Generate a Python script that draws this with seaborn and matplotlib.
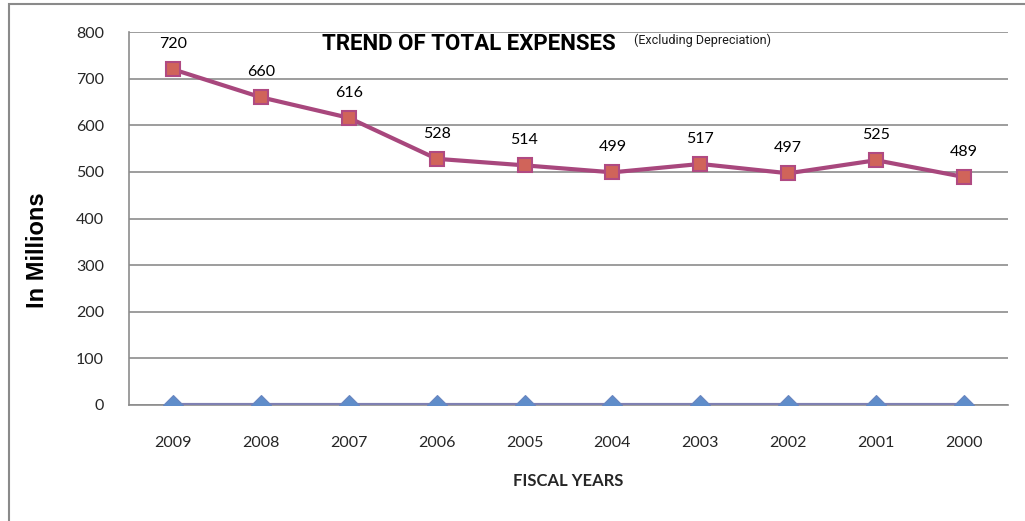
"""
Trend of total expenses (excluding depreciation), fiscal years 2009 back to 2000.
"""

import matplotlib
matplotlib.use("Agg")
import matplotlib.pyplot as plt
import matplotlib.patches as mpatches
import numpy as np
import pandas as pd
import seaborn as sns


YEARS = ["2009", "2008", "2007", "2006", "2005", "2004", "2003", "2002", "2001", "2000"]
EXPENSES = [720, 660, 616, 528, 514, 499, 517, 497, 525, 489]
BASELINE = [0, 0, 0, 0, 0, 0, 0, 0, 0, 0]
Y_TICKS = [0, 100, 200, 300, 400, 500, 600, 700, 800]

LINE_RED = "#a8477d"
FILL_RED = "#d0645a"
EDGE_RED = "#b04a82"
LINE_BLUE = "#7f80b2"
FILL_BLUE = "#5f8dca"
GRID = "#8c8c8c"

TIGHT = ["Roboto", "Liberation Sans", "DejaVu Sans"]
ARIAL = ["Liberation Sans", "DejaVu Sans"]

sns.set_theme(style="white")
plt.rcParams["font.family"] = ["Lato", "DejaVu Sans"]

df = pd.DataFrame({"year": YEARS, "expenses": EXPENSES, "baseline": BASELINE})

fig = plt.figure(figsize=(10.25, 5.21), dpi=100)
ax = fig.add_axes([129 / 1025, 1 - 405 / 521, (1008 - 129) / 1025, (405 - 32) / 521])

# outer chart-area frame (only its left and top edges fall inside the picture)
fig.add_artist(mpatches.Rectangle((9 / 1025, -0.1), 1.2, 1.1 - 4 / 521,
                                  transform=fig.transFigure, fill=False,
                                  edgecolor="#8a8a8a", linewidth=1.5))

sns.lineplot(data=df, x="year", y="baseline", sort=False, ax=ax,
             color=LINE_BLUE, linewidth=3, marker="D", markersize=10,
             markerfacecolor=FILL_BLUE, markeredgecolor="#6a86c0",
             markeredgewidth=0.8, zorder=4)
sns.lineplot(data=df, x="year", y="expenses", sort=False, ax=ax,
             color=LINE_RED, linewidth=3, marker="s", markersize=10.5,
             markerfacecolor=FILL_RED, markeredgecolor=EDGE_RED,
             markeredgewidth=1.5, zorder=5)

for i, v in enumerate(EXPENSES):
    ax.annotate(str(v), (i, v), xytext=(0, 18), textcoords="offset points",
                ha="center", va="center", fontsize=11.5, color="black")

ax.set_xlim(-0.5, len(YEARS) - 0.5)
ax.set_ylim(0, 800)
ax.set_yticks(Y_TICKS)
ax.set_yticklabels([str(t) for t in Y_TICKS], fontsize=11.5)
ax.set_xticks(range(len(YEARS)))
ax.set_xticklabels(YEARS, fontsize=11.5)
ax.set_xticks(np.arange(-0.5, len(YEARS), 1.0), minor=True)
ax.tick_params(axis="x", which="major", length=0, pad=22)
ax.tick_params(axis="x", which="minor", length=6, width=1.2, color=GRID, direction="out")
ax.tick_params(axis="y", which="major", length=6, width=1.2, color=GRID, direction="out", pad=12)

ax.yaxis.grid(True, color=GRID, linewidth=1.2)
ax.xaxis.grid(False)
ax.set_axisbelow(True)
for side in ["top", "right"]:
    ax.spines[side].set_visible(False)
for side in ["left", "bottom"]:
    ax.spines[side].set_color(GRID)
    ax.spines[side].set_linewidth(1.2)

ax.set_xlabel("FISCAL YEARS", fontsize=12, fontweight="bold", labelpad=17)
ax.set_ylabel("")
fig.text(37 / 1025, 1 - 250 / 521, "In Millions", rotation=90, ha="center", va="center",
         fontsize=17, fontweight="bold", family=ARIAL, color="black")

fig.text(322 / 1025, 1 - 50 / 521, "TREND OF TOTAL EXPENSES",
         fontsize=16, fontweight="bold", ha="left", va="baseline", color="black",
         family=TIGHT)
fig.text(634 / 1025, 1 - 44 / 521, "(Excluding Depreciation)",
         fontsize=9, ha="left", va="baseline", color="#1a1a1a", family=TIGHT)

fig.savefig("out.png", dpi=100)
plt.close(fig)
